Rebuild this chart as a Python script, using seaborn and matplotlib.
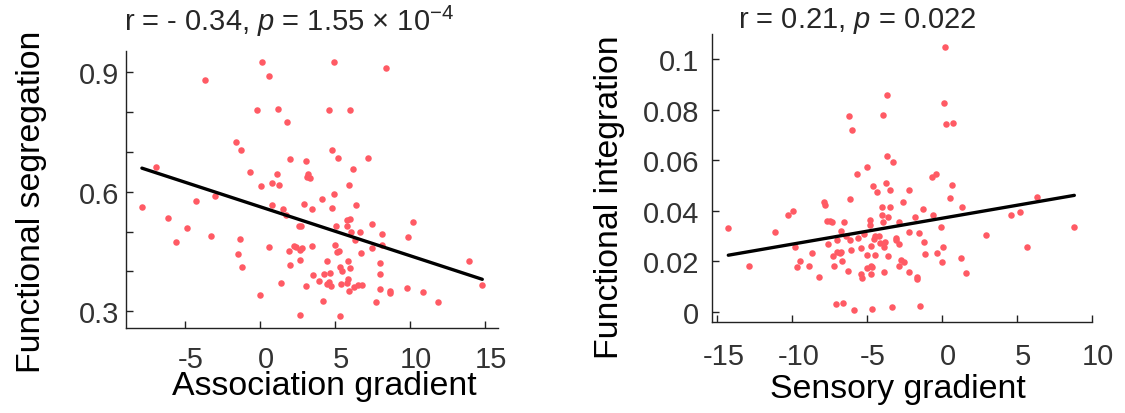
import matplotlib
matplotlib.use("Agg")
import matplotlib.pyplot as plt
import matplotlib.transforms as mtransforms
import seaborn as sns
import numpy as np
import pandas as pd

# association gradient vs functional segregation
assoc_x = [0.16, 4.96, 8.40, 0.58, -3.67, -0.22, 1.22, 4.58, 5.98, 1.78,
           -1.60, -1.27, 4.82, 5.18, 7.22, 2.00, 3.07, -6.93, 6.22, -0.64,
           1.16, 3.22, 3.11, 3.33, 0.80, 0.04, 1.27, 5.96, 4.96, -2.98,
           4.11, -4.29, 2.93, 0.82, 6.42, -7.87, 4.80, 1.56, 3.44, 1.71,
           -6.16, 5.80, 6.00, 10.22, 7.44, 2.62, 2.73, 5.80, 5.09, -4.84,
           6.64, 6.04, 8.11, -3.29, 9.87, -1.36, 6.36, -5.60, 4.98, 8.16,
           3.49, 2.27, 0.58, 2.40, 2.80, 7.44, 1.91, 2.67, 5.24, 5.13,
           6.76, -1.49, 4.47, 2.64, 5.84, 8.02, 13.91, 2.00, 5.33, 6.02,
           -1.22, 5.47, 4.64, 4.29, 7.98, 3.51, 3.93, 1.40, 5.87, 5.78,
           4.60, 4.44, 4.71, 5.38, 3.09, 6.80, 6.51, 6.29, 9.78, 7.98,
           14.82, 8.69, 5.91, 8.67, 10.89, 0.02, 4.20, 7.76, 11.84, 2.69,
           5.36]
segregation = [0.925, 0.925, 0.910, 0.891, 0.881, 0.805, 0.808, 0.806, 0.805, 0.776,
               0.725, 0.705, 0.705, 0.684, 0.684, 0.681, 0.677, 0.662, 0.657, 0.650,
               0.644, 0.644, 0.638, 0.634, 0.622, 0.615, 0.617, 0.616, 0.593, 0.589,
               0.581, 0.577, 0.568, 0.566, 0.567, 0.562, 0.559, 0.557, 0.556, 0.541,
               0.534, 0.529, 0.531, 0.525, 0.519, 0.515, 0.515, 0.515, 0.514, 0.509,
               0.500, 0.500, 0.495, 0.490, 0.485, 0.482, 0.478, 0.474, 0.467, 0.466,
               0.464, 0.464, 0.460, 0.461, 0.458, 0.459, 0.451, 0.454, 0.451, 0.448,
               0.446, 0.443, 0.427, 0.428, 0.427, 0.422, 0.425, 0.417, 0.411, 0.408,
               0.410, 0.400, 0.397, 0.394, 0.394, 0.391, 0.375, 0.370, 0.380, 0.371,
               0.373, 0.369, 0.362, 0.367, 0.362, 0.366, 0.365, 0.360, 0.359, 0.356,
               0.365, 0.350, 0.350, 0.346, 0.347, 0.340, 0.325, 0.323, 0.323, 0.291,
               0.289]

# sensory gradient vs functional integration
sens_x = [0.22, -3.69, 0.13, -6.20, -3.91, 0.29, 0.71, -6.00, -3.67, -3.24,
          -5.04, -5.67, -0.40, -0.67, -4.60, -3.71, 0.69, -4.36, -3.49, -2.18,
          0.53, -6.16, -7.91, -7.78, -2.58, -3.98, -3.49, 1.33, -1.29, -9.98,
          -10.27, -3.98, -0.58, 4.60, 5.20, 6.38, -4.82, -3.58, -7.67, -7.36,
          -7.49, -6.53, -2.89, -3.93, -4.82, -1.78, -0.09, -14.27, 8.84, -11.13,
          -6.71, -2.22, -1.56, 2.91, -5.20, -6.38, -4.49, -4.22, -3.09, -5.64,
          -6.11, -7.04, -3.04, -4.56, -3.80, -4.11, -2.89, -7.62, -1.20, -9.82,
          -5.44, -4.71, -3.84, 0.09, 5.69, -6.09, -8.69, -7.02, -6.73, -6.84,
          -0.36, -1.11, -5.04, -4.44, -7.31, -3.62, 1.29, -9.47, -6.67, -2.71,
          -2.53, -0.02, -12.87, -9.67, -8.89, -7.22, -2.87, -4.71, -4.64, -4.98,
          -6.27, -3.89, -2.18, 1.60, -8.20, -5.40, -5.36, -4.76, -1.64, -1.64,
          -7.09, -6.64, -5.89, -4.64, -3.36, -1.47]
integration = [0.1049, 0.0859, 0.0827, 0.0774, 0.0778, 0.0741, 0.0747, 0.0719, 0.0615, 0.0591,
               0.0574, 0.0546, 0.0545, 0.0532, 0.0499, 0.0509, 0.0501, 0.0474, 0.0482, 0.0483,
               0.0451, 0.0445, 0.0434, 0.0421, 0.0435, 0.0413, 0.0414, 0.0414, 0.0408, 0.0398,
               0.0383, 0.0384, 0.0381, 0.0381, 0.0396, 0.0455, 0.0364, 0.0376, 0.0358, 0.0356,
               0.0358, 0.0354, 0.0355, 0.0354, 0.0344, 0.0376, 0.0335, 0.0331, 0.0336, 0.0317,
               0.0318, 0.0317, 0.0311, 0.0305, 0.0306, 0.0298, 0.0299, 0.0298, 0.0293, 0.0292,
               0.0282, 0.0282, 0.0284, 0.0288, 0.0274, 0.0272, 0.0268, 0.0266, 0.0277, 0.0256,
               0.0252, 0.0261, 0.0256, 0.0257, 0.0256, 0.0243, 0.0231, 0.0235, 0.0235, 0.0232,
               0.0234, 0.0228, 0.0223, 0.0223, 0.0219, 0.0222, 0.0212, 0.0201, 0.0199, 0.0206,
               0.0197, 0.0197, 0.0181, 0.0178, 0.0182, 0.0182, 0.0182, 0.0182, 0.0177, 0.0172,
               0.0160, 0.0157, 0.0157, 0.0154, 0.0136, 0.0148, 0.0135, 0.0149, 0.0137, 0.0131,
               0.0030, 0.0033, 0.0008, 0.0012, 0.0020, 0.0022]

left_title = r"r = - 0.34, $\it{p}$ = 1.55 $\times$ 10$^{-4}$"
right_title = r"r = 0.21, $\it{p}$ = 0.022"

sns.set_style("ticks")
plt.rcParams["font.family"] = ["Liberation Sans", "DejaVu Sans"]
plt.rcParams["mathtext.fontset"] = "custom"
plt.rcParams["mathtext.rm"] = "Liberation Sans"
plt.rcParams["mathtext.it"] = "Liberation Sans:italic"
plt.rcParams["mathtext.default"] = "regular"
plt.rcParams["axes.unicode_minus"] = False

dot_color = "#ff5a64"
tick_size = 21
label_size = 24.4
title_size = 21


def draw_panel(ax, x, y, xlabel, ylabel, title, title_xy):
    df = pd.DataFrame({"x": x, "y": y})
    sns.regplot(x="x", y="y", data=df, ax=ax, ci=None, truncate=True,
                scatter_kws={"s": 22, "color": dot_color, "linewidths": 0, "alpha": 1},
                line_kws={"color": "black", "lw": 2.4})
    sns.despine(ax=ax)
    for side in ["left", "bottom"]:
        ax.spines[side].set_linewidth(1.0)
        ax.spines[side].set_color("#222222")
    ax.tick_params(which="both", direction="in", length=5, width=1, colors="#222222",
                   labelsize=tick_size, labelcolor="#333333")
    ax.set_xlabel(xlabel, fontsize=label_size, color="black")
    ax.set_ylabel(ylabel, fontsize=label_size, color="black", va="center")
    # title placed by hand, it sits off-centre like the original
    ax.text(title_xy[0], title_xy[1], title, transform=ax.transAxes,
            ha="center", va="center", fontsize=title_size)


def nudge_xticklabels(ax, fig, px=6):
    # original x tick labels sit a few pixels right of their ticks
    shift = mtransforms.ScaledTranslation(px / 100, 0, fig.dpi_scale_trans)
    for lab in ax.get_xticklabels():
        lab.set_transform(lab.get_transform() + shift)


fig = plt.figure(figsize=(11.25, 4.14), dpi=100)

ax1 = fig.add_axes([0.1120, 0.2046, 0.3307, 0.6705])
draw_panel(ax1, assoc_x, segregation, "Association gradient",
           "Functional segregation", left_title, (0.438, 1.108))
ax1.set_xlim(-8.93, 15.87)
ax1.set_ylim(0.257, 0.954)
ax1.set_xticks([-5, 0, 5, 10, 15])
ax1.set_yticks([0.3, 0.6, 0.9])
ax1.set_yticklabels(["0.3", "0.6", "0.9"])
ax1.set_yticks([0.4, 0.5, 0.7, 0.8], minor=True)
ax1.tick_params(axis="x", pad=12)
ax1.tick_params(axis="y", pad=5)
ax1.yaxis.set_label_coords(-0.255, 0.459)
ax1.xaxis.set_label_coords(0.532, -0.152)
nudge_xticklabels(ax1, fig)

ax2 = fig.add_axes([0.6326, 0.2191, 0.3378, 0.6964])
draw_panel(ax2, sens_x, integration, "Sensory gradient",
           "Functional integration", right_title, (0.382, 1.049))
ax2.set_xlim(-15.38, 9.96)
ax2.set_ylim(-0.0042, 0.1099)
ax2.set_xticks([-15, -10, -5, 0, 5, 10])
ax2.set_yticks([0, 0.02, 0.04, 0.06, 0.08, 0.1])
ax2.set_yticklabels(["0", "0.02", "0.04", "0.06", "0.08", "0.1"])
ax2.tick_params(axis="x", pad=14)
ax2.tick_params(axis="y", pad=9)
ax2.yaxis.set_label_coords(-0.27, 0.436)
ax2.xaxis.set_label_coords(0.49, -0.175)
nudge_xticklabels(ax2, fig)

plt.savefig("out.png", dpi=100)
plt.close()
